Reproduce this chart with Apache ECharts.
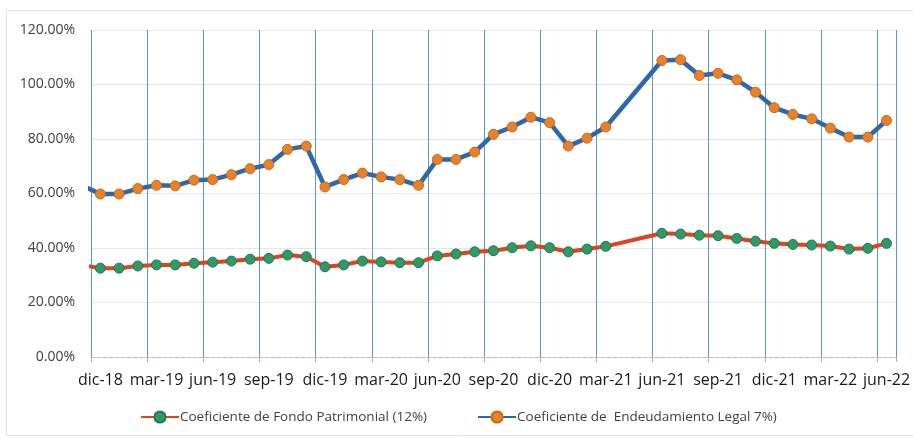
<!DOCTYPE html>
<html>
<head>
<meta charset="utf-8">
<script src="https://cdn.jsdelivr.net/npm/echarts@6/dist/echarts.min.js"></script>
<style>
  html, body { margin: 0; padding: 0; background: #ffffff; }
  #chart { width: 913px; height: 439px; }
</style>
</head>
<body>
<div id="chart"></div>
<script>
// Monthly categories (first one lies just left of the visible plot area)
var categories = [
  'nov-18','dic-18','ene-19','feb-19','mar-19','abr-19','may-19','jun-19','jul-19','ago-19','sep-19','oct-19','nov-19',
  'dic-19','ene-20','feb-20','mar-20','abr-20','may-20','jun-20','jul-20','ago-20','sep-20','oct-20','nov-20',
  'dic-20','ene-21','feb-21','mar-21','abr-21','may-21','jun-21','jul-21','ago-21','sep-21','oct-21','nov-21',
  'dic-21','ene-22','feb-22','mar-22','abr-22','may-22','jun-22'
];

// Coeficiente de Fondo Patrimonial (12%) — percent
var fondoPatrimonial = [
  33.7,
  32.6, 32.6, 33.4, 33.8, 33.8, 34.4, 34.8, 35.2, 35.9, 36.2, 37.4, 36.8,
  33.1, 33.8, 35.2, 34.9, 34.6, 34.6, 37.1, 37.8, 38.6, 39.0, 40.1, 40.8,
  40.1, 38.6, 39.6, 40.6, null, null, 45.4, 45.1, 44.7, 44.5, 43.5, 42.5,
  41.7, 41.3, 41.1, 40.7, 39.6, 39.9, 41.7
];

// Coeficiente de Endeudamiento Legal 7%) — percent
var endeudamientoLegal = [
  63.0,
  59.8, 59.8, 61.8, 63.0, 62.8, 64.9, 65.1, 66.9, 69.1, 70.6, 76.2, 77.4,
  62.4, 65.1, 67.5, 66.1, 65.1, 63.0, 72.5, 72.5, 75.2, 81.7, 84.4, 88.0,
  86.0, 77.4, 80.3, 84.4, null, null, 108.8, 109.1, 103.3, 104.1, 101.7, 97.2,
  91.5, 89.0, 87.4, 84.0, 80.7, 80.7, 86.8
];

var seriesNames = ['Coeficiente de Fondo Patrimonial (12%)', 'Coeficiente de  Endeudamiento Legal 7%)'];

var chart = echarts.init(document.getElementById('chart'), null, { renderer: 'canvas' });

var font = '"Open Sans", "Liberation Sans", sans-serif';
function everyThird(index) { return index >= 1 && (index - 1) % 3 === 0; }

chart.setOption({
  animation: false,
  backgroundColor: '#ffffff',
  graphic: [{
    type: 'rect',
    shape: { x: 6.5, y: 10.5, width: 912, height: 425 },
    style: { fill: 'none', stroke: '#e4e4e4', lineWidth: 1 },
    silent: true
  }],
  grid: { left: 91, right: 11, top: 30, bottom: 82, containLabel: false },
  legend: {
    data: seriesNames,
    left: 140,
    top: 410,
    padding: 0,
    itemWidth: 38,
    itemHeight: 14,
    itemGap: 50,
    textStyle: { color: '#404040', fontSize: 13.5, fontFamily: font, padding: [0, 0, 0, -4] }
  },
  xAxis: {
    type: 'category',
    data: categories,
    min: 1,
    boundaryGap: true,
    axisLine: { show: true, lineStyle: { color: '#b8b8b8', type: 'dashed', width: 1 } },
    axisTick: { show: true, interval: everyThird, length: 5, lineStyle: { color: '#b0b0b0' } },
    axisLabel: { interval: everyThird, color: '#1a1a1a', fontSize: 16, fontFamily: font, margin: 15 },
    splitLine: { show: true, interval: everyThird, lineStyle: { color: '#5b9ad0', width: 1 } }
  },
  yAxis: {
    type: 'value',
    min: 0,
    max: 120,
    interval: 20,
    axisLine: { show: false },
    axisTick: { show: false },
    axisLabel: {
      color: '#404040', fontSize: 14, fontFamily: font, margin: 16,
      formatter: function (v) { return v.toFixed(2) + '%'; }
    },
    splitLine: { show: true, lineStyle: { color: '#e6e6e6', width: 1 } }
  },
  series: [
    {
      name: seriesNames[0],
      type: 'line',
      data: fondoPatrimonial,
      connectNulls: true,
      clip: true,
      symbol: 'circle',
      symbolSize: 10,
      lineStyle: { color: '#e0441c', width: 4 },
      itemStyle: { color: '#2e9a6a', borderColor: '#23774f', borderWidth: 1 },
      z: 3
    },
    {
      name: seriesNames[1],
      type: 'line',
      data: endeudamientoLegal,
      connectNulls: true,
      clip: true,
      symbol: 'circle',
      symbolSize: 10,
      lineStyle: { color: '#2d67ad', width: 4.5 },
      itemStyle: { color: '#e8822a', borderColor: '#c96a18', borderWidth: 1 },
      z: 3
    }
  ]
});
</script>
</body>
</html>
